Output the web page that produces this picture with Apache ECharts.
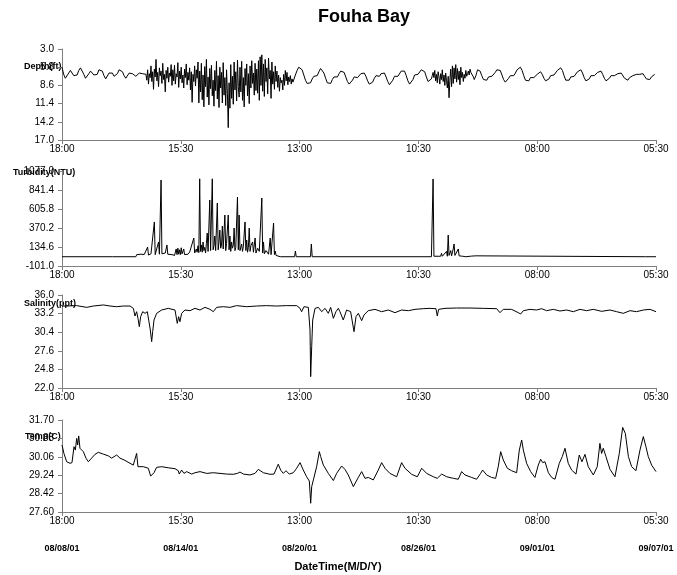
<!DOCTYPE html>
<html>
<head>
<meta charset="utf-8">
<script src="https://cdn.jsdelivr.net/npm/echarts@6/dist/echarts.min.js"></script>
<style>
  html, body { margin: 0; padding: 0; background: #fff; }
  #main { width: 677px; height: 575px; }
</style>
</head>
<body>
<div id="main"></div>
<script>
// x axis: hours since 08/08/01 18:00, one tick every 141.5 h
var TICK_HOURS = 141.5;
var SPAN_HOURS = 707.5;
var timeLabels = ['18:00', '15:30', '13:00', '10:30', '08:00', '05:30'];
var dateLabels = ['08/08/01', '08/14/01', '08/20/01', '08/26/01', '09/01/01', '09/07/01'];

// depth (ft): calm stretches read every 2 h, rough stretches every 1 h
var depthCalm1 = [   // from h 0, every 2 h
  5.8, 6.9, 7.5, 7.3, 6.7, 6.3, 6.6, 7.1, 7.4, 7.0, 6.3, 5.9,
  6.2, 6.9, 7.5, 7.4, 6.8, 6.4, 6.5, 7.0, 7.3, 6.9, 6.2, 6.0,
  6.4, 7.1, 7.6, 7.3, 6.7, 6.4, 6.7, 7.2, 7.4, 6.8, 6.2, 6.1,
  6.5, 7.1, 7.5, 7.2, 6.7, 6.5, 6.8, 7.1, 7.2, 6.9, 6.7, 6.6,
  6.8, 7.0
];
var depthRough1 = [  // from h 100, every 1 h
  6.9, 7.8, 6.2, 8.4, 6.8, 7.4, 5.6, 8.0, 6.5, 9.2, 6.1, 7.3, 4.6, 7.9, 6.6, 8.8,
  5.9, 7.1, 6.4, 8.3, 5.2, 7.7, 6.9, 9.6, 6.3, 7.5, 5.8, 8.1, 6.7, 7.2, 5.4, 8.6,
  6.2, 7.9, 5.5, 8.4, 6.8, 7.3, 5.1, 8.9, 6.4, 7.6, 5.8, 8.2, 7.0, 9.0, 6.1, 7.4,
  5.3, 8.5, 6.6, 7.8, 5.9, 9.3, 6.5, 11.2, 6.9, 8.0, 5.6, 8.7, 6.2, 7.5, 5.0, 11.3,
  6.4, 9.6, 5.2, 10.8, 7.0, 11.9, 5.7, 8.8, 4.6, 10.4, 7.3, 11.6, 6.0, 9.1, 5.5, 10.2,
  7.8, 11.8, 6.3, 9.4, 4.9, 10.7, 7.1, 12.0, 5.8, 9.0, 6.6, 11.3, 5.1, 10.1,
  7.4, 11.7, 6.2, 9.8, 15.1, 8.2, 12.1, 5.4, 10.6, 7.2,
  11.5, 5.0, 9.3, 6.5, 11.0, 4.7, 8.8, 10.4, 5.8, 9.6, 4.9, 10.9, 7.4, 11.9, 6.0, 8.6,
  5.3, 10.2, 6.8, 11.4, 5.6, 9.0, 4.8, 8.3, 6.7, 10.1, 5.2, 9.4,
  6.1, 9.8, 4.8, 10.9, 4.2, 8.6, 3.9, 9.5, 5.3, 10.3, 4.6, 8.0, 5.9, 9.9, 4.4, 7.6,
  6.3, 10.6, 5.0, 8.4, 6.5, 9.2, 5.6, 8.0,
  6.4, 8.9, 7.0, 9.5, 7.4, 8.2, 7.8, 9.3, 6.9, 8.6, 6.3, 7.9, 6.6, 8.5, 7.3, 8.0,
  7.1, 8.4, 7.6, 8.1
];
var depthCalm2 = [   // from h 276, every 2 h
  7.8, 7.0, 6.3, 5.8, 5.7, 6.2, 7.0, 7.8, 8.3, 8.5, 8.2, 7.6, 7.2, 7.4,
  7.1, 6.5, 6.0, 6.1, 6.7, 7.5, 8.2, 8.5, 8.3, 7.7, 7.3, 7.5, 7.3,
  6.8, 6.4, 6.3, 6.6, 7.3, 8.0, 8.4, 8.3, 7.8, 7.3, 7.2, 7.4,
  7.1, 6.8, 6.6, 6.7, 7.2, 7.9, 8.4, 8.5, 8.1, 7.5, 7.1, 7.3,
  7.2, 6.8, 6.6, 6.7, 7.3, 8.0, 8.5, 8.4, 7.8, 7.2, 7.0, 7.2,
  6.9, 6.4, 6.2, 6.4, 7.1, 7.9, 8.4, 8.3, 7.7, 7.0, 6.7, 6.9,
  6.6, 6.2, 6.1, 6.5, 7.3, 8.0, 8.3
];
var depthRough2 = [  // from h 440, every 1 h
  7.6, 7.1, 6.6, 7.4, 6.3, 7.9, 6.9, 8.2, 6.5, 7.3, 8.4, 6.8, 7.7, 6.2, 8.0, 7.0,
  8.6, 6.7, 7.9, 9.0, 7.2, 10.5, 7.8, 6.1, 8.8, 5.6, 8.3, 5.9, 7.6, 5.4, 8.1, 6.0,
  7.7, 6.4, 8.5, 5.8, 7.4, 6.6, 8.0, 6.9, 7.5, 6.3, 7.2, 6.8, 6.4, 7.0, 6.1, 6.6,
  6.3, 6.9, 7.3, 7.7, 7.6, 7.1, 6.6, 6.2
];
var depthCalm3 = [   // from h 496, every 2 h
  6.0, 6.4, 7.1, 7.7, 8.0, 7.8, 7.3, 7.1, 7.2, 7.0, 6.6, 6.2,
  6.0, 6.3, 7.0, 7.7, 8.1, 8.0, 7.5, 7.1, 7.2, 7.1, 6.7, 6.2, 5.9,
  5.8, 6.3, 7.1, 7.8, 8.1, 7.9, 7.4, 7.3, 7.4, 7.2, 6.9, 6.6,
  6.5, 6.9, 7.5, 7.9, 8.0, 7.6, 7.1, 6.9, 7.0, 6.8, 6.3, 6.0,
  5.9, 6.3, 7.1, 7.8, 8.1, 7.8, 7.3, 7.1, 7.2, 6.9, 6.5, 6.2,
  6.2, 6.7, 7.4, 7.9, 8.0, 7.6, 7.1, 7.0, 7.1, 6.9, 6.6, 6.4,
  6.4, 6.9, 7.5, 7.9, 7.9, 7.5, 7.1, 7.0, 7.1, 6.9, 6.8, 6.7,
  6.7, 7.0, 7.5, 7.8, 7.8, 7.4, 7.1, 7.1, 7.0, 6.9, 6.8, 6.9,
  6.8, 6.8, 7.2, 7.6, 7.8, 7.7, 7.3, 7.0, 6.9
];

// turbidity (NTU), [hour, value]
var turbidityPoints = [
  [0, 14], [50, 14], [51, 28], [52, 14], [56, 14], [57, 30], [58, 14], [60, 14], [61, 26], [62, 14],
  [88, 14], [89, 40], [91, 28], [94, 45], [96, 28], [98, 42], [100, 30],
  [102, 134], [103, 35], [106, 50], [108, 40], [110, 445], [111, 40], [113, 60], [115, 197], [116, 45],
  [118, 965], [119, 50], [121, 40], [123, 60], [125, 160], [126, 45], [128, 35], [131, 40], [134, 30],
  [136, 110], [137, 40], [138, 120], [139, 45], [140, 100], [141, 40], [142, 125], [143, 50], [145, 110],
  [146, 40], [148, 60], [150, 45], [152, 70], [154, 55], [157, 246], [158, 60], [160, 110], [161, 70],
  [162, 150], [163, 65], [164, 980], [165, 80], [166, 160], [167, 70], [168, 197], [169, 90], [170, 130],
  [171, 60], [172, 180], [173, 308], [174, 80], [176, 717], [177, 90], [179, 980], [180, 100], [181, 150],
  [182, 271], [183, 90], [185, 680], [186, 100], [187, 200], [188, 345], [189, 120], [190, 160], [191, 395],
  [192, 110], [194, 531], [195, 90], [196, 180], [198, 531], [199, 100], [200, 271], [201, 80], [202, 197],
  [203, 120], [204, 150], [205, 370], [206, 90], [207, 130], [209, 754], [210, 100], [211, 531], [212, 90],
  [214, 172], [215, 80], [216, 140], [218, 445], [219, 90], [220, 221], [221, 70], [222, 130], [223, 370],
  [224, 80], [225, 150], [227, 197], [228, 70], [230, 246], [231, 60], [233, 120], [235, 80], [236, 100],
  [238, 742], [239, 60], [240, 197], [241, 50], [243, 90], [245, 110], [246, 45], [248, 246], [249, 40],
  [250, 60], [252, 432], [253, 40], [254, 85], [255, 30], [257, 20], [260, 14],
  [277, 14], [278, 85], [279, 14], [296, 14], [297, 172], [298, 14], [330, 14], [331, 22], [332, 14],
  [440, 14], [441, 20], [442, 978], [443, 20], [445, 25], [451, 20], [452, 56], [453, 20], [455, 14],
  [458, 80], [459, 20], [460, 283], [461, 30], [463, 90], [464, 25], [466, 110], [467, 172], [468, 30],
  [470, 45], [472, 110], [473, 25], [475, 40], [477, 20], [479, 30], [481, 14], [488, 22], [489, 14],
  [493, 25], [494, 14], [695, 14], [696, 22], [697, 14], [707.5, 14]
];

// salinity (ppt), [hour, value]
var salinityPoints = [
  [0, 34.34], [5.6, 34.34], [17.5, 34.4], [29.4, 34.14], [37.3, 34.34], [49.2, 34.5], [57.2, 34.34],
  [65.1, 34.24], [73, 34.34], [81, 34.34], [85, 33.99], [86.9, 32.84], [88.9, 33.49], [90.5, 32.49],
  [92.1, 31.23], [93.7, 32.74], [96.1, 33.49], [98.9, 33.24], [101.6, 33.49], [103.6, 31.98],
  [105.2, 30.73], [106.8, 28.98], [108, 30.48], [109.6, 32.24], [112.7, 33.24], [118.7, 33.74],
  [126.6, 33.99], [134.6, 33.74], [137.3, 31.73], [138.9, 32.74], [140.5, 31.98], [142.5, 33.24],
  [146.5, 33.74], [152.4, 33.64], [158.4, 33.99], [164.4, 33.74], [170.3, 34.14], [176.3, 33.84],
  [180.2, 33.49], [184.2, 34.14], [192.1, 34.24], [200, 34.14], [208, 34.4], [219.9, 34.24],
  [231.8, 34.34], [243.7, 34.4], [255.6, 34.34], [267.5, 34.4], [279.5, 34.4], [283.5, 33.99],
  [285.4, 33.49], [288.2, 34.24], [293.4, 34.14], [295.4, 30.73], [296.2, 23.71], [297.4, 28.22],
  [298.6, 32.24], [301.4, 33.99], [305.4, 34.14], [309.3, 33.49], [313.3, 33.99], [317.2, 33.24],
  [320, 34.14], [323.2, 32.49], [326.3, 33.49], [329.1, 33.99], [331.1, 33.49], [335, 32.24],
  [339, 33.74], [343.8, 33.49], [347.8, 30.48], [350.2, 32.74], [353, 33.24], [356.9, 32.14],
  [359.7, 32.99], [364.8, 33.64], [372.8, 33.84], [380.7, 33.49], [388.7, 33.74], [396.6, 33.34],
  [404.5, 33.74], [412.5, 33.64], [420.4, 33.84], [430.3, 33.94], [438.3, 33.99], [445.4, 33.94],
  [447, 32.84], [448.6, 33.84], [456.2, 33.99], [470, 34.04], [485.9, 34.04], [501.8, 33.99],
  [517.7, 33.94], [521.7, 33.34], [525.6, 33.84], [535.5, 33.84], [543.5, 33.34], [546.3, 33.14],
  [549.5, 33.64], [557.4, 33.84], [565.3, 33.74], [571.3, 33.94], [577.2, 33.64], [585.2, 33.84],
  [593.1, 33.59], [601, 33.74], [609, 33.49], [616.9, 33.84], [624.9, 33.64], [632.8, 33.84],
  [642.7, 33.54], [652.7, 33.74], [660.6, 33.49], [668.5, 33.24], [676.5, 33.64], [684.4, 33.49],
  [692.4, 33.74], [700.3, 33.84], [707.5, 33.49]
];

// temperature (C), [hour, value]
var tempPoints = [
  [0, 30.59], [2.3, 30.21], [5.6, 29.84], [9.5, 29.77], [11.9, 29.8], [14.3, 30.51], [15.9, 30.36],
  [17.5, 30.88], [18.7, 30.59], [19.9, 30.99], [21.4, 30.44], [25.4, 30.29], [28.6, 30.0], [31.4, 29.84],
  [35.3, 30.0], [39.3, 30.17], [43.3, 30.26], [49.2, 30.18], [55.2, 30.1], [59.2, 30.0], [61.1, 30.07],
  [65.1, 30.14], [69.1, 30.0], [75, 29.9], [81, 29.77], [84.9, 29.69], [86.9, 29.77], [88.9, 30.21],
  [90.5, 29.62], [92.1, 29.69], [96.9, 29.62], [102.8, 29.55], [105.6, 29.2], [107.2, 29.14],
  [109.6, 29.35], [112.7, 29.59], [118.7, 29.62], [126.6, 29.57], [134.6, 29.53], [138.5, 29.44],
  [139.7, 29.29], [142.5, 29.47], [145.3, 29.32], [148.5, 29.4], [154.4, 29.29], [158.4, 29.35],
  [164.4, 29.4], [172.3, 29.32], [180.2, 29.35], [188.2, 29.32], [196.1, 29.29], [204, 29.28],
  [208.8, 29.32], [212, 29.38], [216, 29.29], [223.9, 29.25], [229.9, 29.32], [233.8, 29.5],
  [239.8, 29.35], [247.7, 29.28], [252.5, 29.29], [257.6, 29.73], [260.4, 29.47], [263.6, 29.32],
  [266.8, 29.44], [270.7, 29.29], [275.5, 29.35], [279.5, 29.55], [283.5, 29.8], [287.4, 29.47],
  [291.4, 29.17], [294.6, 28.98], [296.2, 27.99], [297.4, 28.73], [299.4, 29.03], [303.3, 29.62],
  [306.5, 30.29], [308.1, 30.07], [311.3, 29.69], [317.2, 29.32], [323.2, 29.0], [327.1, 29.32],
  [333.1, 29.65], [337, 29.5], [341, 29.25], [347, 28.73], [352.9, 29.14], [356.9, 29.4], [360.9, 29.1],
  [364.8, 29.14], [370.8, 29.03], [376.7, 29.47], [380.7, 29.8], [384.7, 29.55], [390.6, 29.32],
  [398.6, 29.17], [404.5, 29.8], [408.5, 29.55], [416.4, 29.28], [423.2, 29.17], [428.4, 29.55],
  [434.3, 29.32], [442.3, 29.17], [447, 29.1], [452.2, 29.29], [458.2, 29.17], [466.1, 29.1],
  [472, 29.06], [476, 29.4], [480, 29.25], [487.9, 29.14], [493.9, 29.06], [498.6, 29.32], [501, 29.47],
  [505.8, 29.25], [511.7, 29.14], [516.5, 29.1], [519.6, 29.62], [522.5, 30.29], [525.6, 29.92],
  [530.4, 29.55], [535.5, 29.44], [541.5, 29.35], [544.7, 30.36], [547.5, 30.81], [549.5, 30.36],
  [553.4, 29.77], [558.2, 29.4], [563.3, 29.14], [567.3, 29.69], [570.1, 29.95], [572.5, 29.8],
  [575.3, 29.84], [579.3, 29.35], [583.2, 29.14], [587.2, 29.06], [592.3, 29.77], [595.9, 30.07],
  [599.1, 30.44], [603, 29.77], [607, 29.47], [612.2, 29.29], [616.1, 30.14], [619.3, 29.84],
  [622.9, 30.17], [626.8, 29.62], [632.8, 29.25], [637.5, 29.62], [640.7, 30.66], [642.7, 30.21],
  [644.7, 30.44], [647.9, 30.07], [652.7, 29.5], [658.6, 29.17], [663.8, 30.21], [667.8, 31.37],
  [671, 31.1], [674.6, 30.07], [678.5, 29.62], [683.6, 29.44], [688.4, 30.36], [692.4, 30.96],
  [695.5, 30.51], [698.3, 30.07], [702.3, 29.69], [707.5, 29.4]
];

// stitch the depth stretches into [hour, value] pairs
function stretch(values, startHour, step) {
  return values.map(function (v, i) { return [startHour + i * step, v]; });
}
var depthPoints = [].concat(
  stretch(depthCalm1, 0, 2),
  stretch(depthRough1, 100, 1),
  stretch(depthCalm2, 276, 2),
  stretch(depthRough2, 440, 1),
  stretch(depthCalm3, 496, 2)
);

var FONT = "'Liberation Sans', Arial, sans-serif";
var AXIS_GRAY = '#808080';

// one panel per instrument; y axes are offset by their min so ticks start at min
var panels = [
  { name: 'Depth(ft)', min: 3, max: 17, interval: 2.8, digits: 1, inverse: true,
    top: 49, height: 91, nameX: 24, nameY: 67, data: depthPoints },
  { name: 'Turbidity(NTU)', min: -101, max: 1077, interval: 235.6, digits: 1, inverse: false,
    top: 171, height: 95, nameX: 13, nameY: 173, data: turbidityPoints },
  { name: 'Salinity(ppt)', min: 22, max: 36, interval: 2.8, digits: 1, inverse: false,
    top: 295, height: 93, nameX: 24, nameY: 304, data: salinityPoints },
  { name: 'Temp(C)', min: 27.6, max: 31.7, interval: 0.82, digits: 2, inverse: false,
    top: 420, height: 92, nameX: 25, nameY: 437, data: tempPoints }
];

var chart = echarts.init(document.getElementById('main'));

var grids = [], xAxes = [], yAxes = [], series = [], graphics = [];

panels.forEach(function (p, k) {
  grids.push({ left: 62, right: 21, top: p.top, height: p.height });
  xAxes.push({
    type: 'value', gridIndex: k, position: 'bottom',
    min: 0, max: SPAN_HOURS, interval: TICK_HOURS,
    axisLine: { onZero: false, lineStyle: { color: AXIS_GRAY, width: 1 } },
    axisTick: { length: 4, lineStyle: { color: AXIS_GRAY } },
    splitLine: { show: false },
    axisLabel: {
      margin: 4, color: '#000', fontSize: 10, fontFamily: FONT,
      formatter: function (v) { return timeLabels[Math.round(v / TICK_HOURS)]; }
    }
  });
  yAxes.push({
    type: 'value', gridIndex: k, min: 0, max: p.max - p.min, interval: p.interval,
    inverse: p.inverse,
    axisLine: { show: true, onZero: false, lineStyle: { color: AXIS_GRAY, width: 1 } },
    axisTick: { show: true, length: 4, lineStyle: { color: AXIS_GRAY } },
    splitLine: { show: false },
    axisLabel: {
      margin: 8, color: '#000', fontSize: 10, fontFamily: FONT,
      formatter: function (v) { return (v + p.min).toFixed(p.digits); }
    }
  });
  series.push({
    type: 'line', xAxisIndex: k, yAxisIndex: k, showSymbol: false, animation: false,
    lineStyle: { color: '#000', width: 1 },
    data: p.data.map(function (d) { return [d[0], d[1] - p.min]; })
  });
  graphics.push({
    type: 'text', x: p.nameX, y: p.nameY,
    style: { text: p.name, font: 'bold 9px ' + FONT, fill: '#000', align: 'left', verticalAlign: 'middle' }
  });
});

// date row under the bottom panel
xAxes.push({
  type: 'value', gridIndex: 3, position: 'bottom',
  min: 0, max: SPAN_HOURS, interval: TICK_HOURS,
  axisLine: { show: false, onZero: false }, axisTick: { show: false }, splitLine: { show: false },
  axisLabel: {
    margin: 32, color: '#000', fontSize: 9, fontWeight: 'bold', fontFamily: FONT,
    formatter: function (v) { return dateLabels[Math.round(v / TICK_HOURS)]; }
  }
});

graphics.push({
  type: 'text', x: 338, y: 567,
  style: { text: 'DateTime(M/D/Y)', font: 'bold 11px ' + FONT, fill: '#000', align: 'center', verticalAlign: 'middle' }
});

chart.setOption({
  animation: false,
  backgroundColor: '#fff',
  title: {
    text: 'Fouha Bay', left: 313, top: 3,
    textStyle: { fontSize: 18, fontWeight: 'bold', color: '#000', fontFamily: FONT }
  },
  grid: grids,
  xAxis: xAxes,
  yAxis: yAxes,
  series: series,
  graphic: graphics
});
</script>
</body>
</html>
